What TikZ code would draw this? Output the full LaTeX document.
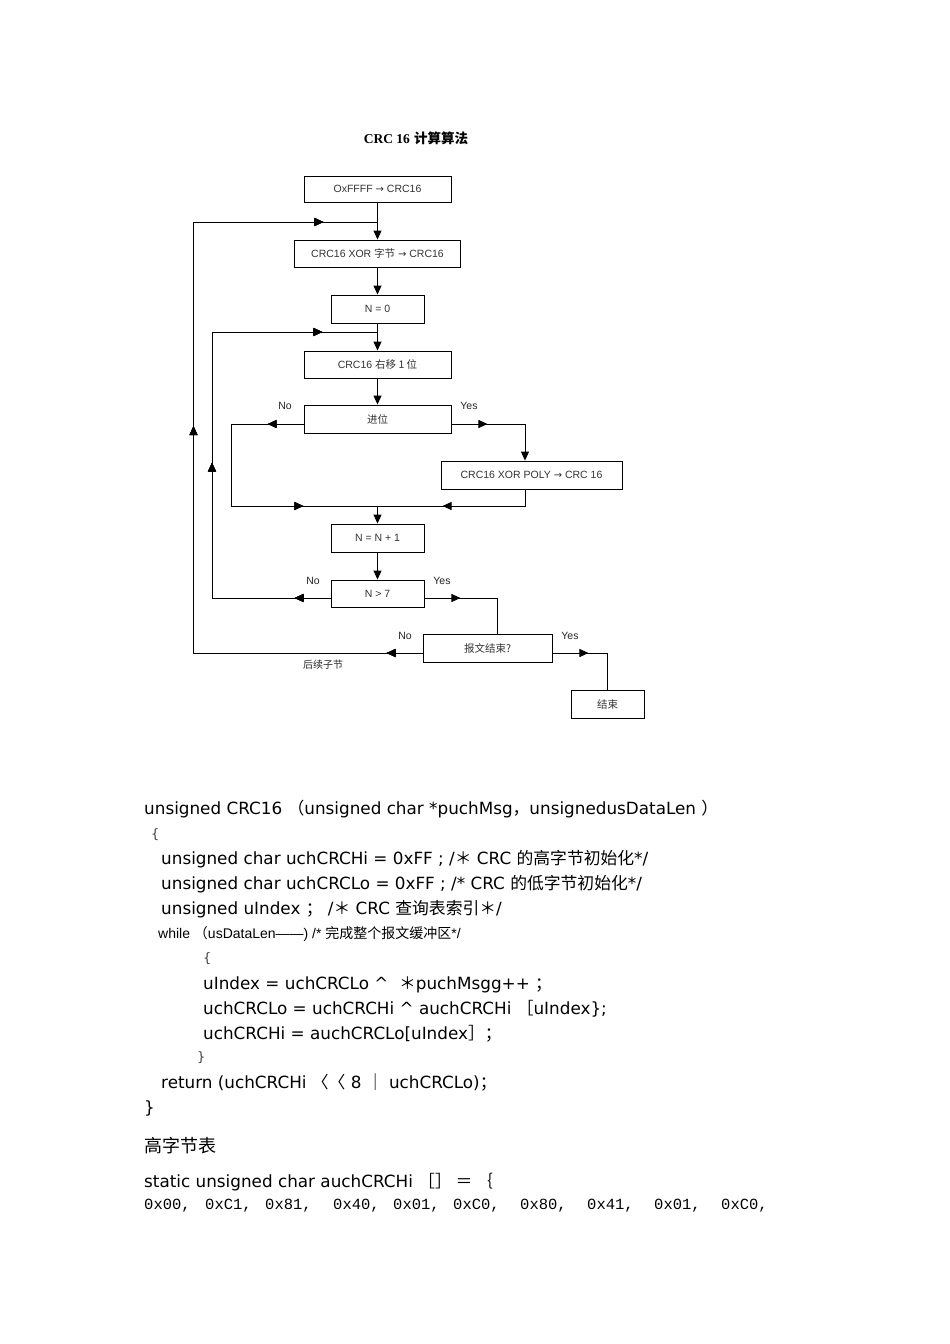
\documentclass[tikz,border=0pt]{standalone}
\usepackage{fontspec}
\setmainfont{DejaVu Sans}
\newfontfamily\cjk{Noto Sans CJK SC}
\newfontfamily\arial{Liberation Sans}
\newfontfamily\tnr{Liberation Serif}
\newfontfamily\cour{Liberation Mono}
\newfontfamily\dvs{DejaVu Sans}
\usetikzlibrary{arrows.meta,decorations.markings}
\newcommand{\rarr}{{\dvs\fontsize{10}{10}\selectfont →}}
\begin{document}
\begin{tikzpicture}[x=1pt,y=-1pt,
  box/.style={draw=black,line width=0.9pt,inner sep=0pt,font=\arial\fontsize{10.5}{12}\selectfont,text=black!80},
  lab/.style={inner sep=0pt,font=\arial\fontsize{10.5}{12}\selectfont,text=black!85},
  conn/.style={line width=0.9pt},
  endarr/.style={-{Triangle[length=9pt,width=8pt]}},
  midarr/.style={postaction={decorate},decoration={markings,mark=at position #1 with {\arrow{Triangle[length=9pt,width=8pt]}}}},
  code/.style={anchor=base west,inner sep=0pt,font=\fontsize{16.8}{20}\selectfont},
  small/.style={anchor=base west,inner sep=0pt,font=\arial\fontsize{14}{16}\selectfont},
  hex/.style={anchor=base west,inner sep=0pt,font=\cour\fontsize{15.5}{18}\selectfont}
]
\useasboundingbox (0,0) rectangle (950,1344);
\fill[white] (0,0) rectangle (950,1344);

% title
\node[inner sep=0pt,font=\fontsize{13.5}{16}\selectfont] (title) at (416,138) {{\tnr\bfseries CRC 16} {\cjk\bfseries 计算算法}};

% boxes
\node[box,minimum width=147pt,minimum height=26pt] (B1) at (377.5,189) {OxFFFF \rarr\ CRC16};
\node[box,minimum width=166pt,minimum height=27pt] (B2) at (377.5,253.5) {CRC16 XOR {\cjk 字节} \rarr\ CRC16};
\node[box,minimum width=93pt,minimum height=28pt] (B3) at (377.5,309) {N = 0};
\node[box,minimum width=147pt,minimum height=27pt] (B4) at (377.5,364.5) {CRC16 {\cjk 右移 1 位}};
\node[box,minimum width=147pt,minimum height=28pt] (B5) at (377.5,419) {{\cjk 进位}};
\node[box,minimum width=181pt,minimum height=28pt] (B6) at (531.5,475) {CRC16 XOR POLY \rarr\ CRC 16};
\node[box,minimum width=93pt,minimum height=28pt] (B7) at (377.5,538) {N = N + 1};
\node[box,minimum width=93pt,minimum height=27pt] (B8) at (377.5,593.5) {N > 7};
\node[box,minimum width=129pt,minimum height=28pt] (B9) at (487.5,648) {{\cjk 报文结束?}};
\node[box,minimum width=73pt,minimum height=28pt] (B10) at (607.5,704) {{\cjk 结束}};

% junctions
\coordinate (J1) at (377.5,222);
\coordinate (J2) at (377.5,332);
\coordinate (J3) at (377.5,506);

% labels
\node[lab] (n1) at (285,406) {No};
\node[lab] (y1) at (469,406) {Yes};
\node[lab] (n2) at (313,581) {No};
\node[lab] (y2) at (442,581) {Yes};
\node[lab] (n3) at (405,636) {No};
\node[lab] (y3) at (570,636) {Yes};
\node[lab,font=\cjk\fontsize{10}{12}\selectfont] (next) at (323,665) {后续子节};

% main flow
\draw[conn,endarr] (B1.south) -- (B2.north);
\draw[conn,endarr] (B2.south) -- (B3.north);
\draw[conn,endarr] (B3.south) -- (B4.north);
\draw[conn,endarr] (B4.south) -- (B5.north);
\draw[conn,endarr] (J3) -- (B7.north);
\draw[conn,endarr] (B7.south) -- (B8.north);

% outer loop
\draw[conn,midarr=36pt,midarr=456pt,midarr=790pt] ([yshift=-5pt]B9.west) -- (193.5,653) -- (193.5,222) -- (J1);
% inner loop
\draw[conn,midarr=36pt,midarr=254pt,midarr=495pt] ([yshift=-4.5pt]B8.west) -- (212,598) -- (212,332) -- (J2);
% carry no
\draw[conn,midarr=36pt,midarr=227pt] ([yshift=-5pt]B5.west) -- (231,424) -- (231,506) -- (J3);
% carry yes
\draw[conn,midarr=36pt,endarr] ([yshift=-5pt]B5.east) -- (525,424) -- ([xshift=-6.5pt]B6.north);
\draw[conn,midarr=99pt] ([xshift=-6.5pt]B6.south) -- (525,506) -- (J3);
% N>7 yes
\draw[conn,midarr=36pt] ([yshift=-4.5pt]B8.east) -- (497,598) -- (B9.north -| 497,0);
% end yes
\draw[conn,midarr=36pt] ([yshift=-5pt]B9.east) -- (607.5,653) -- (B10.north);

% code
\node[code] (c1) at (144,814) {unsigned CRC16 {\cjk （}unsigned char *puchMsg{\cjk ，}unsignedusDataLen {\cjk ）}};
\node[code,font=\fontsize{13}{16}\selectfont,text=black!75] (c2) at (151,838) {\{};
\node[code] (c3) at (161,864) {unsigned char uchCRCHi = 0xFF ; /{\cjk ＊} CRC {\cjk 的高字节初始化}*/};
\node[code] (c4) at (161,889) {unsigned char uchCRCLo = 0xFF ; /* CRC {\cjk 的低字节初始化}*/};
\node[code] (c5) at (161,914) {unsigned uIndex {\cjk ；} /{\cjk ＊} CRC {\cjk 查询表索引}{\cjk ＊}/};
\node[small] (c6) at (158,938) {while {\cjk （}usDataLen——) /* {\cjk 完成整个报文缓冲区}*/};
\node[code,font=\fontsize{13}{16}\selectfont,text=black!75] (c7) at (203,962) {\{};
\node[code] (c8) at (203,989) {uIndex = uchCRCLo \textasciicircum\ \ {\cjk ＊}puchMsgg++ {\cjk ；}};
\node[code] (c9) at (203,1014) {uchCRCLo = uchCRCHi \textasciicircum\ auchCRCHi {\cjk ［}uIndex\};};
\node[code] (c10) at (203,1039) {uchCRCHi = auchCRCLo[uIndex{\cjk ］}{\cjk ；}};
\node[code,font=\fontsize{13}{16}\selectfont,text=black!75] (c11) at (197,1061) {\}};
\node[code] (c12) at (161,1088) {return (uchCRCHi {\cjk 〈〈} 8 {\cjk ｜} uchCRCLo){\cjk ；}};
\node[code] (c13) at (144,1113) {\}};
\node[code,font=\cjk\fontsize{18}{20}\selectfont] (h1) at (144,1152) {高字节表};
\node[code] (c14) at (144,1187) {static unsigned char auchCRCHi {\cjk ［］ ＝ ｛}};
\foreach \xx/\tt [count=\i] in {144/{0x00,},205/{0xC1,},265/{0x81,},333/{0x40,},393/{0x01,},453/{0xC0,},520/{0x80,},587/{0x41,},654/{0x01,},721/{0xC0,}} {
  \node[hex] (hx\i) at (\xx,1209) {\tt};
}
\end{tikzpicture}
\end{document}
